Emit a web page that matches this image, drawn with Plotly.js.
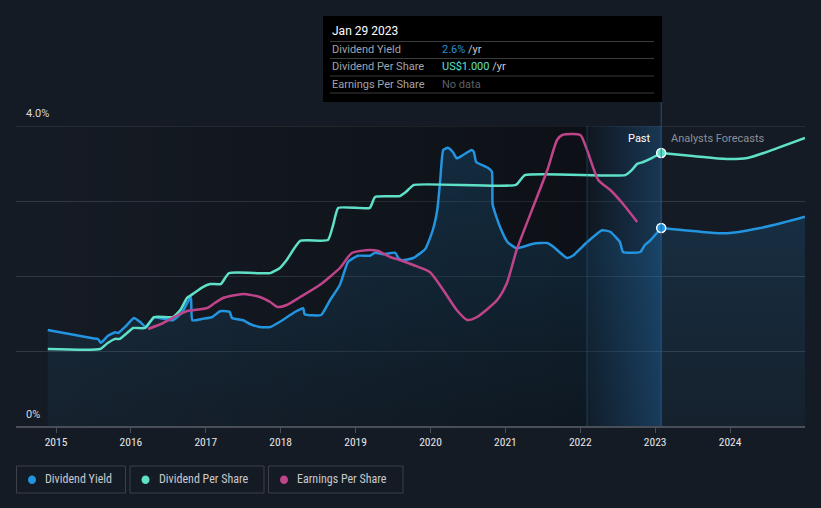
<!DOCTYPE html>
<html>
<head>
<meta charset="utf-8">
<script src="https://cdn.plot.ly/plotly-3.0.1.min.js"></script>
<style>
html,body{margin:0;padding:0;background:#151b24;}
#chart{width:821px;height:508px;}
</style>
</head>
<body>
<div id="chart"></div>
<script>
// ---- data (x = decimal year) ----
const yieldX = [2014.89, 2015.49, 2015.56, 2015.60, 2015.69, 2015.79, 2015.83, 2015.95, 2016.04, 2016.12, 2016.20, 2016.31, 2016.56, 2016.68, 2016.80, 2016.82, 2016.96, 2017.08, 2017.19, 2017.28, 2017.32, 2017.35, 2017.50, 2017.59, 2017.72, 2017.86, 2017.99, 2018.19, 2018.30, 2018.32, 2018.54, 2018.66, 2018.79, 2018.90, 2019.03, 2019.19, 2019.26, 2019.37, 2019.53, 2019.57, 2019.62, 2019.77, 2019.93, 2020.03, 2020.09, 2020.13, 2020.17, 2020.23, 2020.30, 2020.35, 2020.43, 2020.55, 2020.58, 2020.61, 2020.77, 2020.82, 2020.83, 2020.93, 2021.03, 2021.15, 2021.37, 2021.56, 2021.64, 2021.82, 2021.90, 2022.09, 2022.29, 2022.40, 2022.53, 2022.57, 2022.80, 2022.86, 2022.93, 2023.08];
const yieldPct = [1.28, 1.17, 1.16, 1.11, 1.20, 1.25, 1.24, 1.35, 1.44, 1.39, 1.32, 1.45, 1.41, 1.51, 1.72, 1.41, 1.43, 1.45, 1.53, 1.53, 1.52, 1.44, 1.41, 1.36, 1.32, 1.32, 1.39, 1.52, 1.57, 1.49, 1.48, 1.68, 1.88, 2.19, 2.27, 2.27, 2.31, 2.29, 2.31, 2.24, 2.21, 2.24, 2.36, 2.61, 2.88, 3.28, 3.68, 3.71, 3.65, 3.57, 3.61, 3.68, 3.65, 3.52, 3.44, 3.39, 2.95, 2.65, 2.45, 2.37, 2.43, 2.44, 2.39, 2.24, 2.27, 2.45, 2.61, 2.59, 2.45, 2.32, 2.32, 2.41, 2.47, 2.64];
const yieldFcX = [2023.08, 2023.50, 2023.96, 2024.40, 2024.70, 2025.00];
const yieldFcPct = [2.64, 2.60, 2.57, 2.64, 2.71, 2.79];

const dpsX = [2014.89, 2015.59, 2015.69, 2015.79, 2015.85, 2015.95, 2016.03, 2016.19, 2016.31, 2016.56, 2016.66, 2016.75, 2016.83, 2016.96, 2017.06, 2017.20, 2017.31, 2017.86, 2017.99, 2018.08, 2018.26, 2018.63, 2018.70, 2018.77, 2019.19, 2019.26, 2019.59, 2019.67, 2019.78, 2021.14, 2021.26, 2022.60, 2022.69, 2022.76, 2022.84, 2022.96, 2023.08];
const dpsUSD = [0.282, 0.282, 0.304, 0.319, 0.319, 0.341, 0.359, 0.359, 0.399, 0.399, 0.425, 0.469, 0.484, 0.509, 0.520, 0.520, 0.560, 0.560, 0.579, 0.608, 0.678, 0.681, 0.736, 0.799, 0.799, 0.839, 0.842, 0.857, 0.883, 0.883, 0.919, 0.919, 0.938, 0.960, 0.967, 0.982, 1.000];
const dpsFcX = [2023.08, 2023.50, 2023.96, 2024.23, 2024.63, 2025.00];
const dpsFcUSD = [1.000, 0.989, 0.978, 0.982, 1.018, 1.055];

const epsX = [2016.23, 2016.43, 2016.63, 2016.75, 2017.02, 2017.12, 2017.23, 2017.50, 2017.72, 2017.86, 2017.96, 2018.08, 2018.26, 2018.52, 2018.79, 2018.95, 2019.19, 2019.30, 2019.46, 2019.59, 2019.77, 2019.99, 2020.17, 2020.35, 2020.49, 2020.62, 2020.89, 2021.02, 2021.15, 2021.37, 2021.56, 2021.69, 2021.76, 2022.00, 2022.09, 2022.24, 2022.40, 2022.56, 2022.76];
const epsUSD = [0.97, 1.03, 1.11, 1.15, 1.18, 1.23, 1.28, 1.32, 1.29, 1.24, 1.19, 1.21, 1.29, 1.41, 1.58, 1.73, 1.76, 1.75, 1.69, 1.66, 1.61, 1.54, 1.36, 1.16, 1.06, 1.09, 1.26, 1.43, 1.76, 2.19, 2.56, 2.86, 2.91, 2.91, 2.76, 2.46, 2.36, 2.23, 2.04];

const tickYears = [2015, 2016, 2017, 2018, 2019, 2020, 2021, 2022, 2023, 2024];
const tickLabels = ["2015", "2016", "2017", "2018", "2019", "2020", "2021", "2022", "2023", "2024"];
const seriesNames = ["Dividend Yield", "Dividend Per Share", "Earnings Per Share"];
const asOfLabel = "Jan 29 2023";
const asOf = 2023.08;
const pastWindowStart = 2022.09;

// ---- styling ----
const C_BLUE = '#2394df', C_TEAL = '#5fe1c8', C_PINK = '#c0448a';
const FONT = 'Roboto, "Open Sans", sans-serif';
const FONT_C = '"Roboto Condensed", "Liberation Sans Narrow", "DejaVu Sans Condensed", Roboto, sans-serif';
const L = 16, R = 805, T = 126, B = 426;
const px = x => (x - L) / (R - L);
const py = y => (B - y) / (B - T);
const X0 = 2014.466, X1 = 2025.0;
const SM = 0.45;

const traces = [];
// darkening of past region
traces.push({x:[yieldX[0], pastWindowStart, pastWindowStart, yieldX[0], yieldX[0]], y:[0,0,4,4,0],
  fill:'toself', mode:'none', hoverinfo:'skip', showlegend:false,
  fillgradient:{type:'horizontal', start:yieldX[0], stop:pastWindowStart,
    colorscale:[[0,'rgba(0,0,0,0)'],[1,'rgba(0,0,0,0.38)']]}});
// last 12 months highlight
traces.push({x:[pastWindowStart, asOf, asOf, pastWindowStart, pastWindowStart], y:[0,0,4,4,0],
  fill:'toself', mode:'none', hoverinfo:'skip', showlegend:false,
  fillgradient:{type:'horizontal', start:pastWindowStart, stop:asOf,
    colorscale:[[0,'rgba(5,15,25,0.35)'],[1,'rgba(30,105,170,0.36)']]}});
// yield area
const areaGrad = {type:'vertical', start:0, stop:4, colorscale:[[0,'rgba(35,148,223,0.05)'],[1,'rgba(35,148,223,0.2)']]};
traces.push({x:yieldX, y:yieldPct, fill:'tozeroy', mode:'none', line:{shape:'spline', smoothing:SM}, fillgradient:areaGrad, hoverinfo:'skip', showlegend:false});
traces.push({x:yieldFcX, y:yieldFcPct, fill:'tozeroy', mode:'none', line:{shape:'spline'}, fillgradient:areaGrad, hoverinfo:'skip', showlegend:false});
// lines
traces.push({x:epsX, y:epsUSD, yaxis:'y3', mode:'lines', line:{color:C_PINK, width:2.5, shape:'spline', smoothing:0.6}, hoverinfo:'skip', showlegend:false});
traces.push({x:dpsX, y:dpsUSD, yaxis:'y2', mode:'lines', line:{color:C_TEAL, width:2.5, shape:'spline', smoothing:SM}, hoverinfo:'skip', showlegend:false});
traces.push({x:dpsFcX, y:dpsFcUSD, yaxis:'y2', mode:'lines', line:{color:C_TEAL, width:2.5, shape:'spline'}, hoverinfo:'skip', showlegend:false});
traces.push({x:yieldX, y:yieldPct, mode:'lines', line:{color:C_BLUE, width:2.5, shape:'spline', smoothing:SM}, hoverinfo:'skip', showlegend:false});
traces.push({x:yieldFcX, y:yieldFcPct, mode:'lines', line:{color:C_BLUE, width:2.5, shape:'spline'}, hoverinfo:'skip', showlegend:false});
// current markers
traces.push({x:[dpsX[dpsX.length-1]], y:[dpsUSD[dpsUSD.length-1]], yaxis:'y2', mode:'markers', marker:{color:C_TEAL, size:9, line:{color:'#ffffff', width:1.5}}, hoverinfo:'skip', showlegend:false});
traces.push({x:[yieldX[yieldX.length-1]], y:[yieldPct[yieldPct.length-1]], mode:'markers', marker:{color:C_BLUE, size:9, line:{color:'#ffffff', width:1.5}}, hoverinfo:'skip', showlegend:false});

const shapes = [
  {type:'line', xref:'paper', yref:'y', x0:0, x1:1, y0:4, y1:4, line:{color:'#3a4049', width:1}, layer:'below'},
  {type:'line', xref:'x', yref:'paper', x0:pastWindowStart, x1:pastWindowStart, y0:0, y1:1, line:{color:'rgba(35,95,145,0.55)', width:1}, layer:'above'},
  {type:'line', xref:'x', yref:'paper', x0:asOf, x1:asOf, y0:0, y1:py(101), line:{color:'rgba(35,95,145,0.8)', width:1}, layer:'above'},
  // tooltip
  {type:'rect', xref:'paper', yref:'paper', x0:px(323), x1:px(662), y0:py(102), y1:py(16), fillcolor:'#000000', line:{width:0}, layer:'above'},
];
[41.5, 58.5, 76, 93].forEach(y => shapes.push({type:'line', xref:'paper', yref:'paper', x0:px(330), x1:px(654), y0:py(y), y1:py(y), line:{color:'#3a3b3d', width:1}, layer:'above'}));

const annotations = [
  {text:'4.0%', x:px(24), y:py(114), xanchor:'left', yanchor:'middle'},
  {text:'0%', x:px(24), y:py(414), xanchor:'left', yanchor:'middle'},
].map(a => Object.assign({xref:'paper', yref:'paper', showarrow:false, font:{family:FONT, size:11, color:'#d6d9dd'}}, a));

annotations.push({xref:'paper', yref:'paper', showarrow:false, text:'Past', x:px(653), y:py(138), xanchor:'right', yanchor:'middle', font:{family:FONT, size:11, color:'#ffffff'}});
annotations.push({xref:'paper', yref:'paper', showarrow:false, text:'Analysts Forecasts', x:px(669), y:py(138), xanchor:'left', yanchor:'middle', font:{family:FONT, size:11, color:'#8b9098'}});

// tooltip text
const ttRows = [
  {label:seriesNames[0], value:'<span style="color:'+C_BLUE+'">'+yieldPct[yieldPct.length-1].toFixed(1)+'%</span> /yr', y:50},
  {label:seriesNames[1], value:'<span style="color:'+C_TEAL+'">US$'+dpsUSD[dpsUSD.length-1].toFixed(3)+'</span> /yr', y:66.5},
  {label:seriesNames[2], value:'<span style="color:#5d6167">No data</span>', y:84},
];
annotations.push({xref:'paper', yref:'paper', showarrow:false, text:asOfLabel, x:px(330), y:py(31), xanchor:'left', yanchor:'middle', font:{family:FONT, size:12, color:'#ffffff'}});
ttRows.forEach(r => {
  annotations.push({xref:'paper', yref:'paper', showarrow:false, text:r.label, x:px(330), y:py(r.y), xanchor:'left', yanchor:'middle', font:{family:FONT, size:11, color:'#a0a4ab'}});
  annotations.push({xref:'paper', yref:'paper', showarrow:false, text:r.value, x:px(440), y:py(r.y), xanchor:'left', yanchor:'middle', font:{family:FONT, size:11, color:'#c9ccd0'}});
});

// custom legend
const legendBoxes = [[16.5,125.5],[130,264],[268.5,403]];
const legendColors = [C_BLUE, C_TEAL, C_PINK];
legendBoxes.forEach((b, i) => {
  shapes.push({type:'rect', xref:'paper', yref:'paper', x0:px(b[0]), x1:px(b[1]), y0:py(493), y1:py(466), line:{color:'#3b4049', width:1}, fillcolor:'rgba(0,0,0,0)'});
  shapes.push({type:'circle', xref:'paper', yref:'paper', x0:px(b[0]+11.5), x1:px(b[0]+19.5), y0:py(484), y1:py(475.5), line:{width:0}, fillcolor:legendColors[i]});
  annotations.push({xref:'paper', yref:'paper', showarrow:false, text:seriesNames[i], x:px(b[0]+26.5), y:py(479.5), xanchor:'left', yanchor:'middle', font:{family:FONT_C, size:12, color:'#c6c9ce'}});
});

const layout = {
  width:821, height:508,
  margin:{l:L, r:821-R, t:T, b:508-B, pad:0},
  paper_bgcolor:'#151b24', plot_bgcolor:'rgba(0,0,0,0)',
  showlegend:false,
  xaxis:{range:[X0, X1], tickvals:tickYears, ticktext:tickLabels, showgrid:false, zeroline:false,
    showline:true, linecolor:'#4a4f57', linewidth:1.5, ticks:'outside', ticklen:5, tickcolor:'#4a4f57',
    tickfont:{family:FONT_C, size:11.5, color:'#e4e6ea'}, fixedrange:true},
  yaxis:{range:[0,4], tickvals:[1,2,3,4], showticklabels:false, gridcolor:'#323842', gridwidth:1, zeroline:false, showline:false, fixedrange:true},
  yaxis2:{range:[0, 300/273], overlaying:'y', visible:false, fixedrange:true},
  yaxis3:{range:[0, 3], overlaying:'y', visible:false, fixedrange:true},
  shapes:shapes, annotations:annotations,
  hovermode:false
};
Plotly.newPlot('chart', traces, layout, {displayModeBar:false, staticPlot:true});
</script>
</body>
</html>
